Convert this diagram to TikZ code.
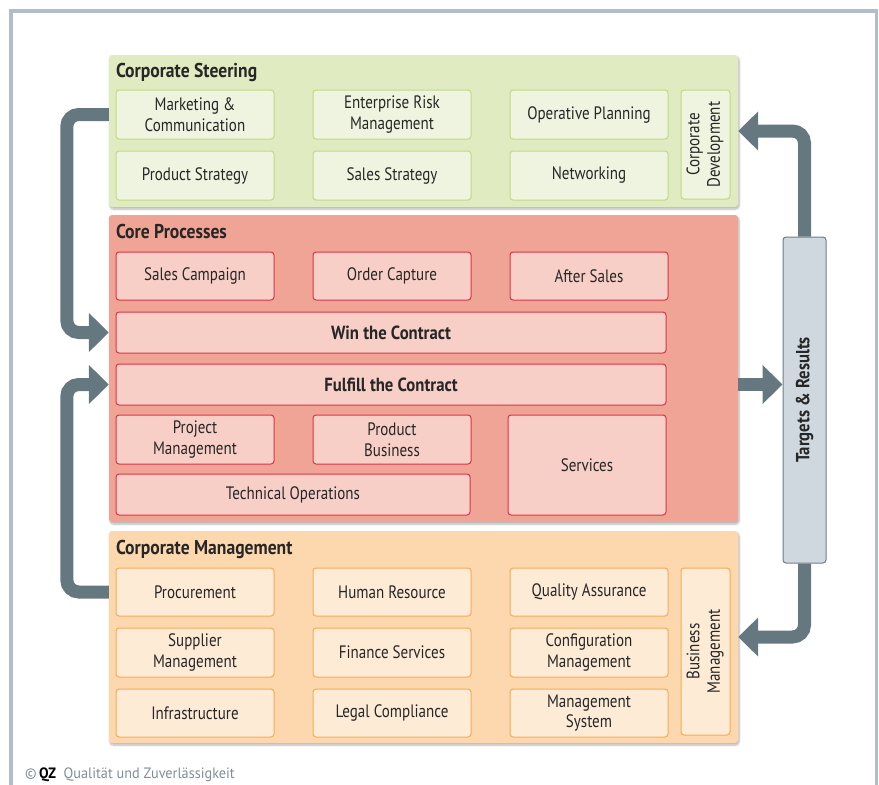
\documentclass[tikz,border=0pt]{standalone}
\usepackage{fontspec}
\usepackage{graphicx}
\setmainfont{PT Sans}[FakeStretch=0.835, BoldFeatures={FakeStretch=0.88}]
\newfontfamily\footfont{PT Sans}[FakeStretch=0.95]
\usetikzlibrary{positioning,arrows.meta,shadows.blur}
\definecolor{cSteer}{HTML}{E0EBC1}
\definecolor{cSteerBox}{HTML}{EEF4DF}
\definecolor{cSteerLine}{HTML}{C0DA80}
\definecolor{cCore}{HTML}{F0A495}
\definecolor{cCoreBox}{HTML}{F7CFC6}
\definecolor{cCoreLine}{HTML}{DA3448}
\definecolor{cMgmt}{HTML}{FDD8AF}
\definecolor{cMgmtBox}{HTML}{FEEBD6}
\definecolor{cMgmtLine}{HTML}{F6AA55}
\definecolor{cFlow}{HTML}{65777F}
\definecolor{cTarget}{HTML}{D0D8DF}
\definecolor{cTargetLine}{HTML}{6D7E88}
\definecolor{cFrame}{HTML}{B0BEC6}
\definecolor{cText}{HTML}{262626}
\definecolor{cFoot}{HTML}{7F8E98}
% two-line text turned upright
\newcommand{\vlabel}[1]{\rotatebox{90}{\begin{tabular}{@{}c@{}}#1\end{tabular}}}
\tikzset{
  panel/.style={rounded corners=3pt, minimum width=629pt, inner sep=0pt,
                blur shadow={shadow xshift=1pt, shadow yshift=-2pt,
                             shadow blur steps=6, shadow opacity=30}},
  ptitle/.style={anchor=base west, inner sep=0pt, text=cText,
                 font=\fontsize{20}{22}\selectfont\bfseries},
  blk/.style={rounded corners=3pt, draw, line width=1pt, align=center,
              inner sep=0pt, minimum width=158pt, minimum height=49pt,
              text=cText, font=\fontsize{18}{20.5}\selectfont},
  bold/.style={font=\fontsize{19}{21}\selectfont\bfseries},
  steerb/.style={blk, draw=cSteerLine, fill=cSteerBox},
  coreb/.style={blk, draw=cCoreLine, fill=cCoreBox},
  mgmtb/.style={blk, draw=cMgmtLine, fill=cMgmtBox},
  tgt/.style={blk, bold, draw=cTargetLine, fill=cTarget},
  flow/.style={line width=13pt, cFlow, rounded corners=12pt,
               -{Triangle[length=20pt, width=38pt]}},
}

\begin{document}
\begin{tikzpicture}[x=1pt, y=-1pt, node distance=11pt and 38pt]
  \useasboundingbox (0,0) rectangle (879,785);
  \draw[cFrame, line width=3.5pt] (11,11) rectangle (876.5,820);
  % layers
  \node[panel, fill=cSteer, minimum height=152pt] (steer) at (423.5,131) {};
  \node[panel, fill=cCore, minimum height=307pt] (core) at (423.5,368.5) {};
  \node[panel, fill=cMgmt, minimum height=212pt] (mgmt) at (423.5,637) {};
  \node[ptitle] (steerT) at ([xshift=7pt, yshift=-23pt]steer.north west) {Corporate Steering};
  \node[ptitle] (coreT) at ([xshift=7pt, yshift=-24pt]core.north west) {Core Processes};
  \node[ptitle] (mgmtT) at ([xshift=7pt, yshift=-24pt]mgmt.north west) {Corporate Management};

  % corporate steering
  \node[steerb] (mkt) at (195,114.5) {Marketing \&\\Communication};
  \node[steerb, right=of mkt] (erm) {Enterprise Risk\\Management};
  \node[steerb, right=of erm] (oper) {Operative Planning};
  \node[steerb, below=of mkt] (pstrat) {Product Strategy};
  \node[steerb, below=of erm] (sstrat) {Sales Strategy};
  \node[steerb, below=of oper] (netw) {Networking};
  \node[steerb, minimum width=49pt, minimum height=109pt] (cdev) at (705.5,144.5)
    {\vlabel{Corporate\\Development}};

  % core processes
  \node[coreb, minimum height=48pt] (scamp) at (195,276) {Sales Campaign};
  \node[coreb, minimum height=48pt, right=of scamp] (ocap) {Order Capture};
  \node[coreb, minimum height=48pt, right=of ocap] (asales) {After Sales};
  \node[coreb, bold, minimum width=550pt, minimum height=41pt] (win) at (391,332.5) {Win the Contract};
  \node[coreb, bold, minimum width=550pt, minimum height=41pt, below=10pt of win] (fulfil) {Fulfill the Contract};
  \node[coreb] (projm) at (195,439.5) {Project\\Management};
  \node[coreb, right=of projm] (prodb) {Product\\Business};
  \node[coreb, minimum height=100pt] (serv) at (587,465) {Services};
  \node[coreb, minimum width=354pt, minimum height=41pt] (techop) at (293,494.5) {Technical Operations};

  % corporate management
  \node[mgmtb, minimum height=48pt] (proc) at (195,592) {Procurement};
  \node[mgmtb, minimum height=48pt, right=of proc] (hr) {Human Resource};
  \node[mgmtb, minimum height=48pt, right=of hr] (qa) {Quality Assurance};
  \node[mgmtb, below=of proc] (supm) {Supplier\\Management};
  \node[mgmtb, below=of hr] (fin) {Finance Services};
  \node[mgmtb, below=of qa] (cfg) {Configuration\\Management};
  \node[mgmtb, minimum height=48pt, below=of supm] (infra) {Infrastructure};
  \node[mgmtb, minimum height=48pt, below=of fin] (legal) {Legal Compliance};
  \node[mgmtb, minimum height=48pt, below=of cfg] (msys) {Management\\System};
  \node[mgmtb, minimum width=49pt, minimum height=167pt] (bmgmt) at (705.5,651.5)
    {\vlabel{Business\\Management}};

  % targets and feedback loops
  \node[tgt, minimum width=43pt, minimum height=326pt] (tr) at (804.5,400)
    {\rotatebox{90}{Targets \& Results}};
  \draw[flow] (steer.west |- mkt) -- ++(-42,0) |- (core.west |- win);
  \draw[flow] (mgmt.west |- proc) -- ++(-42,0) |- (core.west |- fulfil);
  \draw[flow] (tr.north) |- (steer.east);
  \draw[flow] (core.east |- fulfil) -- (tr.west |- fulfil);
  \draw[flow] (tr.south) |- (mgmt.east);

  \node[anchor=base west, inner sep=0pt, text=cFoot, font=\footfont\fontsize{15}{17}\selectfont]
    (foot) at (25,778) {\textcopyright\,\textcolor{black}{\textbf{QZ}}\ \ Qualität und Zuverlässigkeit};
\end{tikzpicture}
\end{document}
